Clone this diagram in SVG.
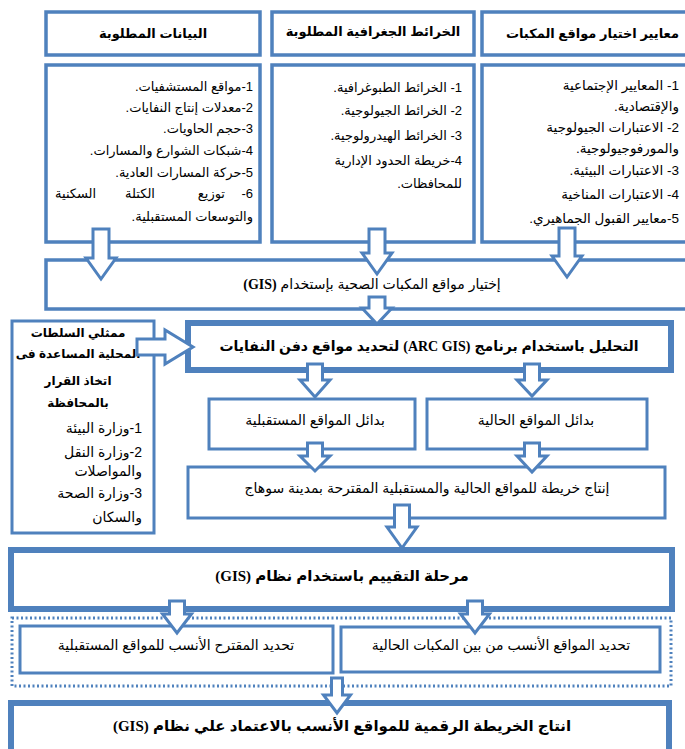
<svg xmlns="http://www.w3.org/2000/svg" width="685" height="749" viewBox="0 0 685 749">
<style>
  .bx{fill:#fff;stroke:#4f81bd;stroke-width:3.5}
  .thin{fill:#fff;stroke:#4f81bd;stroke-width:3}
  .thick{fill:#fff;stroke:#4f81bd;stroke-width:6}
  .dot{fill:none;stroke:#4f81bd;stroke-width:3;stroke-dasharray:2 2.5}
  .ar{fill:#fff;stroke:#4f81bd;stroke-width:3;stroke-linejoin:miter}
  text{font-family:"Liberation Sans","DejaVu Sans",sans-serif;fill:#000}
  .h{font-size:13px;font-weight:bold}
  .l{font-size:13px}
  .r{font-size:13.5px}
  .b{font-size:14px;font-weight:bold}
  .s{font-size:12px;font-weight:bold}
  .m{font-size:14px}
  .lat{font-family:"Liberation Serif","DejaVu Serif",serif;font-weight:bold}
</style>
<rect width="685" height="749" fill="#fff"/>

<g id="node-data-header"><rect class="bx" x="46" y="12" width="214" height="43"/><text class="h" x="153" y="38" text-anchor="middle" direction="rtl">البيانات المطلوبة</text></g>
<g id="node-maps-header"><rect class="bx" x="272" y="12" width="202" height="43"/><text class="h" x="373" y="36" text-anchor="middle" direction="rtl">الخرائط الجغرافية المطلوبة</text></g>
<g id="node-criteria-header"><rect class="bx" x="482" y="12" width="215" height="43"/><text class="h" x="679" y="38" text-anchor="start" direction="rtl">معايير اختيار مواقع المكبات</text></g>

<g id="node-data-list"><rect class="bx" x="46" y="65" width="214" height="177"/>
<text class="l" x="253" y="91" direction="rtl">1-مواقع المستشفيات.</text>
<text class="l" x="253" y="112" direction="rtl">2-معدلات إنتاج النفايات.</text>
<text class="l" x="253" y="133" direction="rtl">3-حجم الحاويات.</text>
<text class="l" x="253" y="155" direction="rtl">4-شبكات الشوارع والمسارات.</text>
<text class="l" x="253" y="177" direction="rtl">5-حركة المسارات العادية.</text>
<text class="l" x="253" y="198" direction="rtl">6-</text>
<text class="l" x="225" y="198" direction="rtl">توزيع</text>
<text class="l" x="140" y="198" text-anchor="middle" direction="rtl">الكتلة</text>
<text class="l" x="55" y="198" text-anchor="end" direction="rtl">السكنية</text>
<text class="l" x="253" y="221" direction="rtl">والتوسعات المستقبلية.</text>
</g>

<g id="node-maps-list"><rect class="bx" x="272" y="65" width="202" height="177"/>
<text class="l" x="462" y="92" direction="rtl">1- الخرائط الطبوغرافية.</text>
<text class="l" x="462" y="115" direction="rtl">2- الخرائط الجيولوجية.</text>
<text class="l" x="462" y="140" direction="rtl">3- الخرائط الهيدرولوجية.</text>
<text class="l" x="462" y="165" direction="rtl">4-خريطة الحدود الإدارية</text>
<text class="l" x="462" y="188" direction="rtl">للمحافظات.</text>
</g>

<g id="node-criteria-list"><rect class="bx" x="482" y="65" width="215" height="177"/>
<text class="r" x="679" y="90" direction="rtl">1- المعايير الإجتماعية</text>
<text class="r" x="679" y="111" direction="rtl">والإقتصادية.</text>
<text class="r" x="679" y="132" direction="rtl">2- الاعتبارات الجيولوجية</text>
<text class="r" x="679" y="153" direction="rtl">والمورفوجيولوجية.</text>
<text class="r" x="679" y="175" direction="rtl">3- الاعتبارات البيئية.</text>
<text class="r" x="679" y="199" direction="rtl">4- الاعتبارات المناخية</text>
<text class="r" x="679" y="223" direction="rtl">5-معايير القبول الجماهيري.</text>
</g>

<g id="node-gis-selection"><rect class="bx" x="46" y="260" width="650" height="49"/>
<text class="m" x="372" y="289" text-anchor="middle" direction="rtl">إختيار مواقع المكبات الصحية بإستخدام <tspan class="lat">(GIS)</tspan></text></g>

<g id="node-authorities"><rect class="thin" x="12" y="321" width="142" height="212"/>
<text class="s" x="78" y="337" text-anchor="middle" direction="rtl">ممثلي السلطات</text>
<text class="s" x="78" y="358" text-anchor="middle" direction="rtl">المحلية المساعدة فى</text>
<text class="s" x="78" y="385" text-anchor="middle" direction="rtl">اتخاذ القرار</text>
<text class="s" x="78" y="407" text-anchor="middle" direction="rtl">بالمحافظة</text>
<text class="m" x="142" y="433" direction="rtl">1-وزارة البيئة</text>
<text class="m" x="142" y="457" direction="rtl">2-وزارة النقل</text>
<text class="m" x="142" y="476" direction="rtl">والمواصلات</text>
<text class="m" x="142" y="498" direction="rtl">3-وزارة الصحة</text>
<text class="m" x="142" y="522" direction="rtl">والسكان</text>
</g>

<g id="node-arcgis"><rect class="thick" x="188" y="323" width="483" height="47"/>
<text class="b" x="429" y="351" text-anchor="middle" direction="rtl">التحليل باستخدام برنامج <tspan class="lat">(ARC GIS)</tspan> لتحديد مواقع دفن النفايات</text></g>

<g id="node-future-alt"><rect class="thin" x="209" y="399" width="206" height="50"/>
<text class="m" x="315" y="425" text-anchor="middle" direction="rtl">بدائل المواقع المستقبلية</text></g>
<g id="node-current-alt"><rect class="thin" x="427" y="399" width="220" height="50"/>
<text class="m" x="536" y="425" text-anchor="middle" direction="rtl">بدائل المواقع الحالية</text></g>

<g id="node-map-production"><rect class="thin" x="188" y="467" width="477" height="51"/>
<text class="m" x="427" y="493" text-anchor="middle" direction="rtl">إنتاج خريطة للمواقع الحالية والمستقبلية المقترحة بمدينة سوهاج</text></g>

<g id="node-evaluation"><rect class="thick" x="11" y="550" width="661" height="59"/>
<text class="b" x="342" y="581" text-anchor="middle" direction="rtl" style="font-size:15px">مرحلة التقييم باستخدام نظام <tspan class="lat">(GIS)</tspan></text></g>

<g id="node-evaluation-group"><rect class="dot" x="12" y="618" width="659" height="68"/></g>
<g id="node-best-future"><rect class="thin" x="20" y="626" width="313" height="47"/>
<text class="m" x="176" y="650" text-anchor="middle" direction="rtl">تحديد المقترح الأنسب للمواقع المستقبلية</text></g>
<g id="node-best-current"><rect class="thin" x="341" y="627" width="319" height="45"/>
<text class="m" x="501" y="650" text-anchor="middle" direction="rtl">تحديد المواقع الأنسب من بين المكبات الحالية</text></g>

<g id="node-final-map"><rect class="thick" x="11" y="703" width="658" height="60"/>
<text class="b" x="342" y="731" text-anchor="middle" direction="rtl" style="font-size:15px">انتاج الخريطة الرقمية للمواقع الأنسب بالاعتماد علي نظام <tspan class="lat">(GIS)</tspan></text></g>

<g id="connectors">
<path class="ar" d="M93,229 H109 V258 H116 L101,279 L86,258 H93 Z"/>
<path class="ar" d="M369,229 H385 V253 H392 L377,274 L362,253 H369 Z"/>
<path class="ar" d="M559,228 H575 V256 H582 L567,277 L552,256 H559 Z"/>
<path class="ar" d="M369,297 H385 V308 H392 L377,324 L362,308 H369 Z"/>
<path class="ar" d="M137,339 H165 V330 L193,347 L165,364 V355 H137 Z"/>
<path class="ar" d="M307.5,364 H322.5 V380 H330 L315,397 L300,380 H307.5 Z"/>
<path class="ar" d="M524.5,364 H539.5 V380 H547 L532,396 L517,380 H524.5 Z"/>
<path class="ar" d="M307.5,443 H322.5 V456 H330 L315,471 L300,456 H307.5 Z"/>
<path class="ar" d="M524.5,443 H539.5 V456 H547 L532,472 L517,456 H524.5 Z"/>
<path class="ar" d="M394.5,505 H409.5 V527 H417 L402,548 L387,527 H394.5 Z"/>
<path class="ar" d="M169.5,601 H184.5 V614 H191.5 L177,633 L162.5,614 H169.5 Z"/>
<path class="ar" d="M467.5,601 H482.5 V614 H489.5 L475,633 L460.5,614 H467.5 Z"/>
<path class="ar" d="M331.5,678 H342.5 V695 H350.5 L337,713 L323.5,695 H331.5 Z"/>
</g>
</svg>
